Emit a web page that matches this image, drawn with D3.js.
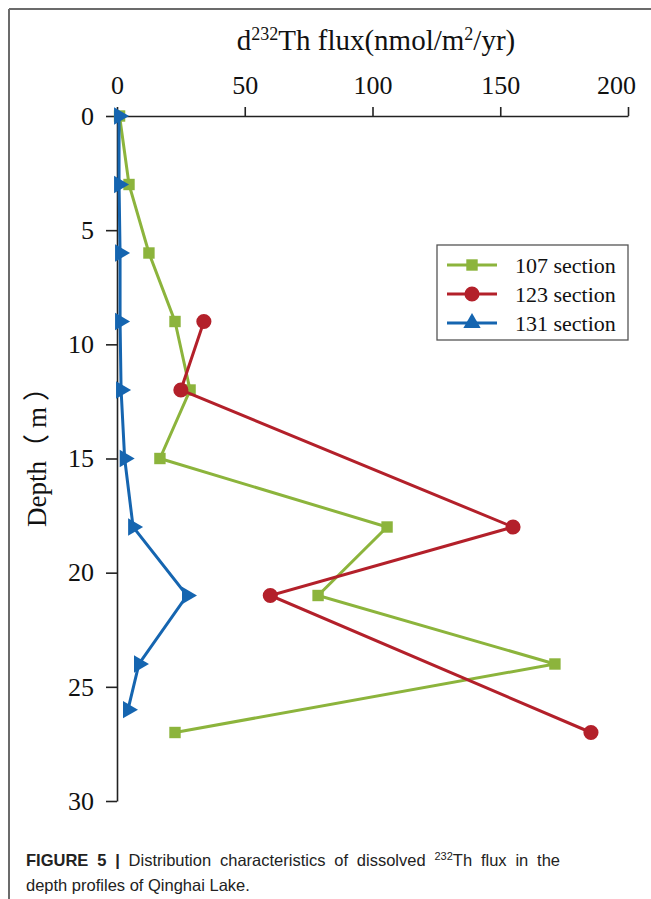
<!DOCTYPE html>
<html>
<head>
<meta charset="utf-8">
<script src="https://cdn.jsdelivr.net/npm/d3@7"></script>
<style>
  body { margin: 0; background: #fff; }
  svg { display: block; }
</style>
</head>
<body>
<div id="chart"></div>
<script>
// data
var xTicks = [0, 50, 100, 150, 200];
var yTicks = [0, 5, 10, 15, 20, 25, 30];

var depth107 = [0, 3, 6, 9, 12, 15, 18, 21, 24, 27];
var flux107 = [1, 4.7, 12.5, 22.7, 28.6, 16.8, 105.7, 78.7, 171.4, 22.7];

var depth123 = [9, 12, 18, 21, 27];
var flux123 = [34, 25, 155, 60, 185.5];

var depth131 = [0, 3, 6, 9, 12, 15, 18, 21, 24, 26];
var flux131 = [0.8, 0.8, 1.2, 1.2, 1.6, 3, 6.3, 27.4, 8.6, 4.3];

var seriesNames = ['107 section', '123 section', '131 section'];
var colors = ['#8cb43c', '#b3202a', '#1565b0'];

var width = 651, height = 899;
var svg = d3.select('#chart').append('svg')
    .attr('width', width)
    .attr('height', height);

// frame
svg.append('line').attr('x1', 9).attr('x2', width).attr('y1', 9).attr('y2', 9)
    .attr('stroke', '#6b6b6b').attr('stroke-width', 2);
svg.append('line').attr('x1', 9).attr('x2', 9).attr('y1', 9).attr('y2', height)
    .attr('stroke', '#6b6b6b').attr('stroke-width', 2);

var xScale = d3.scaleLinear().domain([0, 200]).range([117, 628]);
var yScale = d3.scaleLinear().domain([0, 30]).range([116, 801]);

var serif = '"Liberation Serif", "Times New Roman", serif';

// axes
var xAxis = svg.append('g').attr('transform', 'translate(0,116)')
    .call(d3.axisTop(xScale).tickValues(xTicks).tickSize(9).tickSizeOuter(0).tickPadding(13));
var yAxis = svg.append('g').attr('transform', 'translate(117,0)')
    .call(d3.axisLeft(yScale).tickValues(yTicks).tickSize(11).tickSizeOuter(0).tickPadding(12));

[xAxis, yAxis].forEach(function(ax) {
    ax.select('.domain').attr('stroke', '#222').attr('stroke-width', 1.6);
    ax.selectAll('.tick line').attr('stroke', '#222').attr('stroke-width', 1.6);
    ax.selectAll('.tick text').attr('fill', '#111')
        .style('font-family', serif).style('font-size', '26px');
});
// last label sits a bit left of its tick in the original
xAxis.selectAll('.tick text').filter(function(d) { return d === 200; }).attr('dx', -12);

// axis titles
var title = svg.append('text')
    .attr('x', 376).attr('y', 50)
    .attr('text-anchor', 'middle')
    .style('font-family', serif).style('font-size', '29px').attr('fill', '#111');
title.append('tspan').text('d');
title.append('tspan').text('232').attr('dy', -10).style('font-size', '18px');
title.append('tspan').text('Th flux(nmol/m').attr('dy', 10);
title.append('tspan').text('2').attr('dy', -10).style('font-size', '18px');
title.append('tspan').text('/yr)').attr('dy', 10);

var yTitle = svg.append('text')
    .attr('transform', 'translate(46,527) rotate(-90)')
    .attr('text-anchor', 'start')
    .style('font-family', serif + ', "Noto Sans CJK SC"').style('font-size', '27px')
    .attr('fill', '#111');
yTitle.append('tspan').text('Depth');
yTitle.append('tspan').text('（m）').style('letter-spacing', '6px');

// series
var series = [
    { depth: depth107, flux: flux107, symbol: d3.symbolSquare, size: 130, rot: 0 },
    { depth: depth123, flux: flux123, symbol: d3.symbolCircle, size: 180, rot: 0 },
    { depth: depth131, flux: flux131, symbol: d3.symbolTriangle, size: 130, rot: 90 }
];

var line = d3.line().x(function(d) { return xScale(d[1]); }).y(function(d) { return yScale(d[0]); });

series.forEach(function(s, i) {
    var pts = s.depth.map(function(d, j) { return [d, s.flux[j]]; });
    svg.append('path').datum(pts)
        .attr('d', line)
        .attr('fill', 'none')
        .attr('stroke', colors[i])
        .attr('stroke-width', 3);
    svg.selectAll('.m' + i).data(pts).enter().append('path')
        .attr('class', 'm' + i)
        .attr('d', d3.symbol().type(s.symbol).size(s.size))
        .attr('transform', function(d) {
            return 'translate(' + xScale(d[1]) + ',' + yScale(d[0]) + ') rotate(' + s.rot + ')';
        })
        .attr('fill', colors[i]);
});

// legend
var legend = svg.append('g').attr('transform', 'translate(437,245)');
legend.append('rect').attr('width', 191).attr('height', 95)
    .attr('fill', '#fff').attr('stroke', '#555').attr('stroke-width', 1.3);
seriesNames.forEach(function(name, i) {
    var ly = 20 + i * 29;
    legend.append('line').attr('x1', 10).attr('x2', 60).attr('y1', ly).attr('y2', ly)
        .attr('stroke', colors[i]).attr('stroke-width', 3);
    legend.append('path')
        .attr('d', d3.symbol().type(series[i].symbol).size(series[i].size))
        .attr('transform', 'translate(35,' + ly + ')')
        .attr('fill', colors[i]);
    legend.append('text').attr('x', 78).attr('y', ly + 8)
        .style('font-family', serif).style('font-size', '22px').attr('fill', '#111')
        .text(name);
});

// caption (first line is justified)
var sans = '"Liberation Sans", Arial, sans-serif';
var cap = svg.append('text').attr('x', 26).attr('y', 866)
    .style('font-family', sans).style('font-size', '16.5px').attr('fill', '#222');
cap.append('tspan').text('FIGURE 5 | ').style('font-weight', 'bold');
cap.append('tspan').text('Distribution characteristics of dissolved ');
cap.append('tspan').text('232').attr('dy', -6).style('font-size', '11px');
cap.append('tspan').text('Th flux in the').attr('dy', 6);
var capLen = cap.node().getComputedTextLength();
cap.style('word-spacing', ((560 - 26 - capLen) / 10) + 'px');
svg.append('text').attr('x', 26).attr('y', 891)
    .style('font-family', sans).style('font-size', '16.5px').attr('fill', '#222')
    .text('depth profiles of Qinghai Lake.');
</script>
</body>
</html>
